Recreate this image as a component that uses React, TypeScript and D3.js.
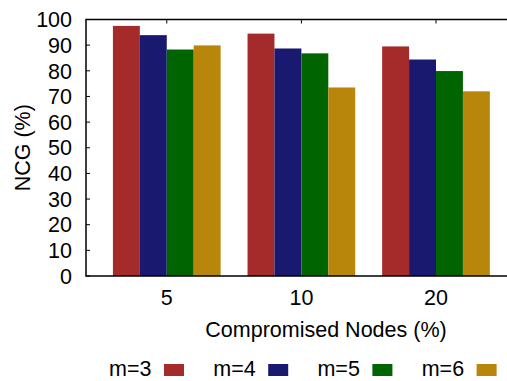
import React, { useEffect, useRef } from 'react';
import * as d3 from 'd3';

const groups = ['5', '10', '20'];
const seriesNames = ['m=3', 'm=4', 'm=5', 'm=6'];
const seriesColors = ['#a52a2a', '#191970', '#006400', '#b8860b'];
const m3 = [97.5, 94.5, 89.5];
const m4 = [93.9, 88.7, 84.4];
const m5 = [88.3, 86.8, 79.9];
const m6 = [89.9, 73.5, 72.0];
const yTicks = [0, 10, 20, 30, 40, 50, 60, 70, 80, 90, 100];

const W = 507;
const H = 381;
const FONT = '"Liberation Sans", Arial, Helvetica, sans-serif';
const FS = '21.5px';

export default function App() {
  const svgRef = useRef<SVGSVGElement>(null);

  useEffect(() => {
    if (!svgRef.current) return;
    const svg = d3.select(svgRef.current);
    svg.selectAll('*').remove();

    const left = 86;
    const top = 19.5;
    const bottom = 276;

    const series = [m3, m4, m5, m6];

    // group index -> px, bars are 0.2 wide
    const x = d3.scaleLinear().domain([-0.6, 2.52]).range([left, 506]);
    const y = d3.scaleLinear().domain([0, 100]).range([bottom, top]);

    // ticks (inward), drawn first so bars cover them
    svg.append('g')
      .selectAll('line')
      .data(yTicks)
      .enter()
      .append('line')
      .attr('x1', left)
      .attr('x2', left + 4)
      .attr('y1', d => y(d))
      .attr('y2', d => y(d))
      .attr('stroke', '#000')
      .attr('stroke-width', 1);

    svg.append('g')
      .selectAll('line')
      .data(groups)
      .enter()
      .append('line')
      .attr('x1', (_d, i) => x(i))
      .attr('x2', (_d, i) => x(i))
      .attr('y1', top)
      .attr('y2', top + 4)
      .attr('stroke', '#000')
      .attr('stroke-width', 1);

    // bars
    series.forEach((vals, s) => {
      svg.append('g')
        .selectAll('rect')
        .data(vals)
        .enter()
        .append('rect')
        .attr('x', (_d, i) => x(i + (s - 2) * 0.2))
        .attr('width', x(0.2) - x(0))
        .attr('y', d => y(d))
        .attr('height', d => y(0) - y(d))
        .attr('fill', seriesColors[s]);
    });

    // frame: left, bottom, top
    svg.append('path')
      .attr('d', `M${W},${top}H${left}V${bottom}H${W}`)
      .attr('fill', 'none')
      .attr('stroke', '#000')
      .attr('stroke-width', 1.5);

    // y tick labels
    svg.append('g')
      .selectAll('text')
      .data(yTicks)
      .enter()
      .append('text')
      .attr('x', 72)
      .attr('y', d => y(d))
      .attr('dy', '0.36em')
      .attr('text-anchor', 'end')
      .style('font-family', FONT)
      .style('font-size', FS)
      .text(d => d);

    // x tick labels
    svg.append('g')
      .selectAll('text')
      .data(groups)
      .enter()
      .append('text')
      .attr('x', (_d, i) => x(i))
      .attr('y', 305)
      .attr('text-anchor', 'middle')
      .style('font-family', FONT)
      .style('font-size', FS)
      .text(d => d);

    svg.append('text')
      .attr('x', 326)
      .attr('y', 337)
      .attr('text-anchor', 'middle')
      .style('font-family', FONT)
      .style('font-size', FS)
      .text('Compromised Nodes (%)');

    svg.append('text')
      .attr('transform', `translate(30,${(top + bottom) / 2}) rotate(-90)`)
      .attr('text-anchor', 'middle')
      .style('font-family', FONT)
      .style('font-size', FS)
      .text('NCG (%)');

    // legend
    const legend = svg.append('g')
      .selectAll('g')
      .data(seriesNames)
      .enter()
      .append('g')
      .attr('transform', (_d, i) => `translate(${164 + i * 104.2},0)`);

    legend.append('text')
      .attr('x', -12.5)
      .attr('y', 376)
      .attr('text-anchor', 'end')
      .style('font-family', FONT)
      .style('font-size', FS)
      .text(d => d);

    legend.append('rect')
      .attr('x', 0)
      .attr('y', 364)
      .attr('width', 20)
      .attr('height', 12)
      .attr('fill', (_d, i) => seriesColors[i]);
  }, []);

  return (
    <svg
      ref={svgRef}
      width={W}
      height={H}
      style={{ position: 'absolute', left: 0, top: 0, background: '#fff' }}
    />
  );
}
